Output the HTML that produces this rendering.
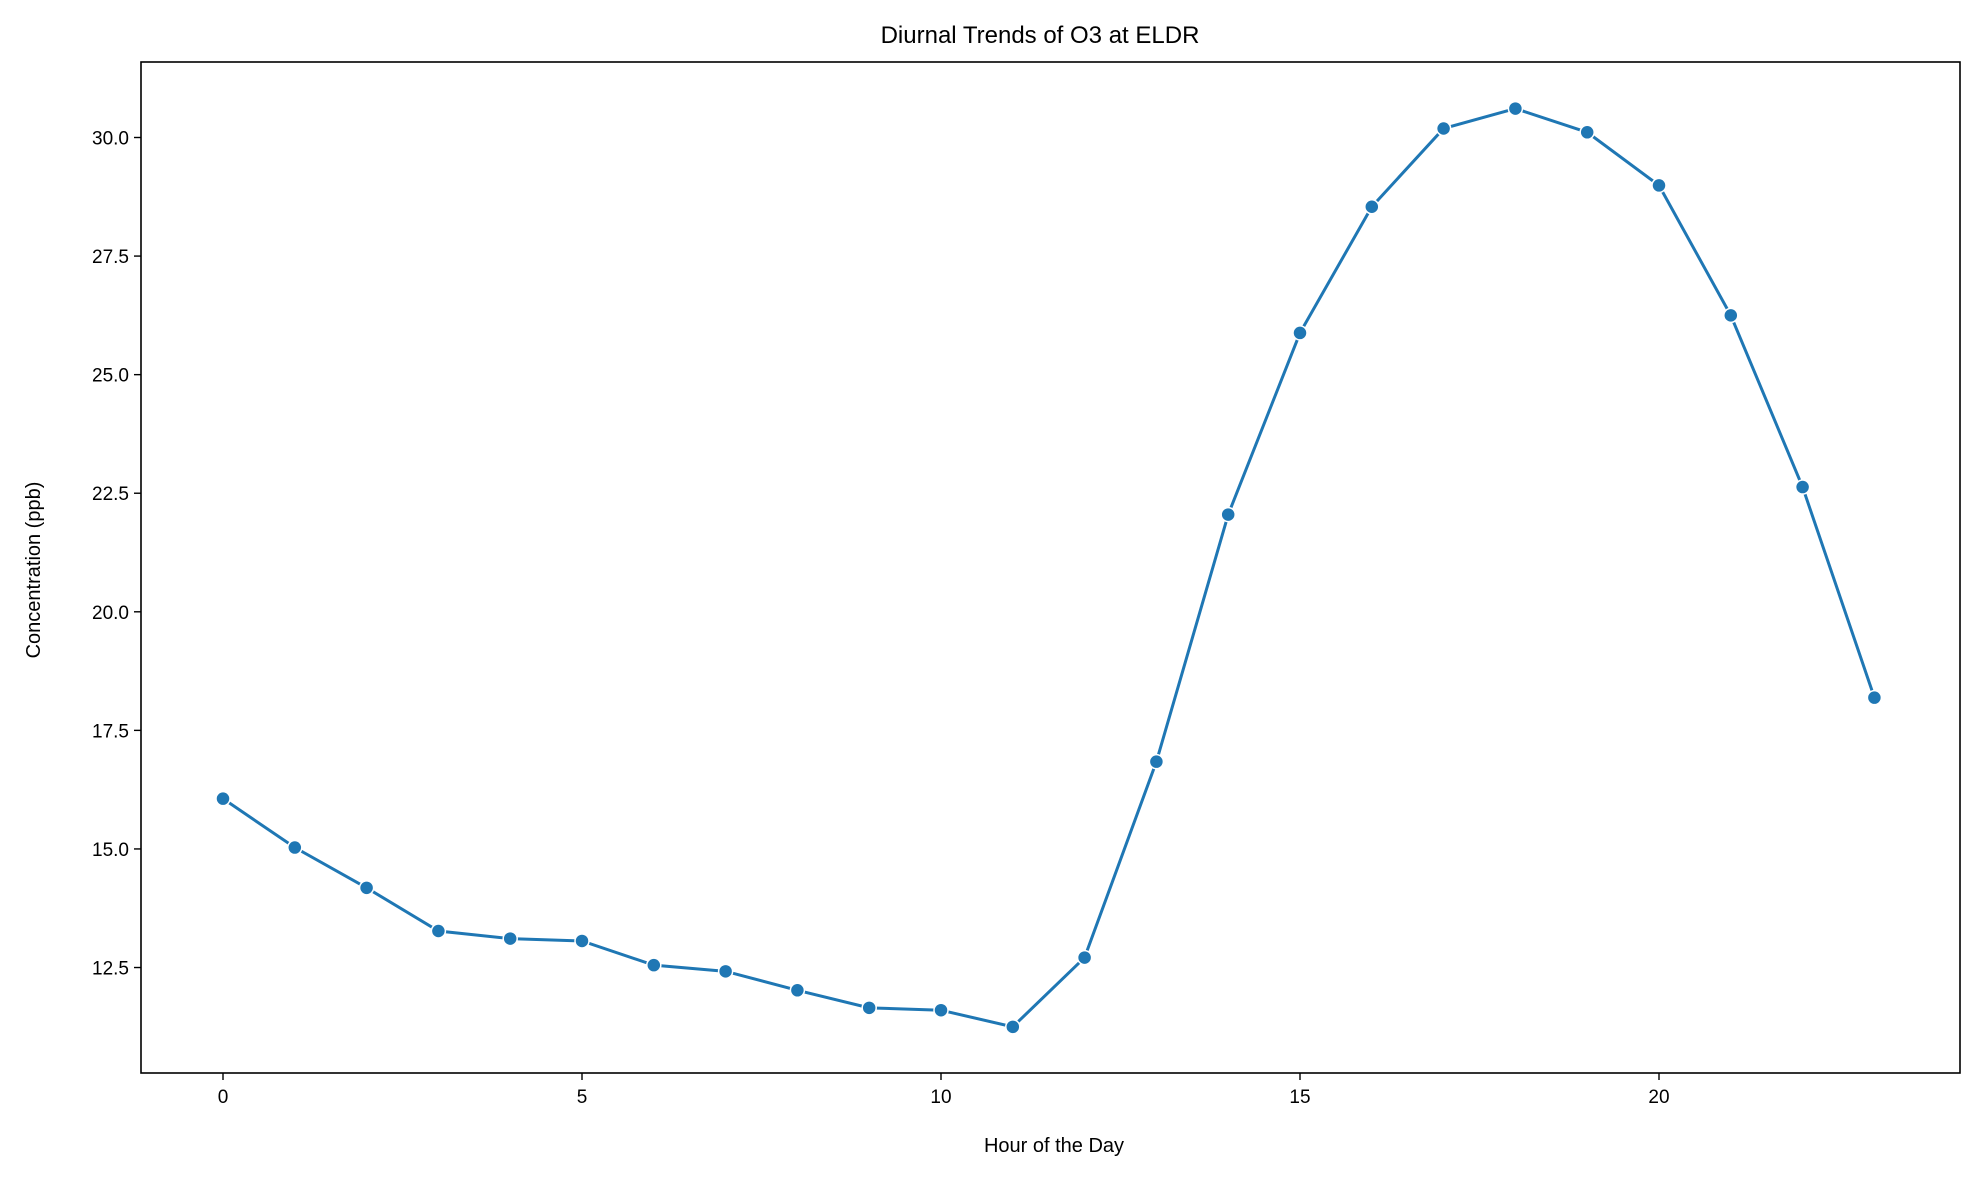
<!DOCTYPE html>
<html><head><meta charset="utf-8"><style>
body{margin:0;background:#fff;}
svg{display:block;font-family:"Liberation Sans","DejaVu Sans",sans-serif;}
</style></head><body>
<svg id="chart" width="1979" height="1180" viewBox="0 0 1979 1180">
<rect width="1979" height="1180" fill="#fff"/>
<text x="1040" y="43" font-size="24" text-anchor="middle">Diurnal Trends of O3 at ELDR</text>
<text x="1054" y="1152" font-size="20" text-anchor="middle">Hour of the Day</text>
<text transform="translate(40,570) rotate(-90)" font-size="20" text-anchor="middle">Concentration (ppb)</text>
<g id="xticks"></g>
<g id="yticks"></g>
<g id="series"></g>
<rect x="141" y="62" width="1819" height="1011" fill="none" stroke="#000" stroke-width="1.6"/>
</svg>
<script>
const hours=[0,1,2,3,4,5,6,7,8,9,10,11,12,13,14,15,16,17,18,19,20,21,22,23];
const o3Values=[16.06,15.03,14.18,13.27,13.11,13.06,12.55,12.42,12.02,11.65,11.60,11.25,12.71,16.84,22.05,25.88,28.54,30.19,30.61,30.11,28.99,26.25,22.63,18.19];
const xTickValues=[0,5,10,15,20];
const yTickValues=[12.5,15.0,17.5,20.0,22.5,25.0,27.5,30.0];
const yTickLabels=["12.5","15.0","17.5","20.0","22.5","25.0","27.5","30.0"];
const NS="http://www.w3.org/2000/svg";
const L=141,R=1960,T=62,B=1073;
const x0=223,xPer=(1316-223)/20*1.262;
function xs(v){return 223+v*71.8;}
function ys(v){return 137.5+(30-v)*47.43;}
function mk(t,a,p){const e=document.createElementNS(NS,t);for(const k in a)e.setAttribute(k,a[k]);p.appendChild(e);return e;}
const gx=document.getElementById('xticks'),gy=document.getElementById('yticks'),gs=document.getElementById('series');
xTickValues.forEach(v=>{
 const l=mk('line',{x1:xs(v),x2:xs(v),y1:B,y2:B+7,stroke:'#000','stroke-width':1.4},gx);
 
 
 const t=mk('text',{x:xs(v),y:B+30,'font-size':19,'text-anchor':'middle'},gx);t.textContent=v;
 
 
});
yTickValues.forEach((v,i)=>{
 const l=mk('line',{x1:L-7,x2:L,y1:ys(v),y2:ys(v),stroke:'#000','stroke-width':1.4},gy);
 
 
 const t=mk('text',{x:L-12,y:ys(v)+7,'font-size':19,'text-anchor':'end'},gy);t.textContent=yTickLabels[i];
 
 
});
const pts=hours.map((h,i)=>xs(h)+','+ys(o3Values[i])).join(' ');
const pl=mk('polyline',{points:pts,fill:'none',stroke:'#1f77b4','stroke-width':3},gs);


hours.forEach((h,i)=>{
 const c=mk('circle',{cx:xs(h),cy:ys(o3Values[i]),r:7,fill:'#1f77b4',stroke:'#fff','stroke-width':1.5},gs);
 
 
});
</script>
</body></html>
